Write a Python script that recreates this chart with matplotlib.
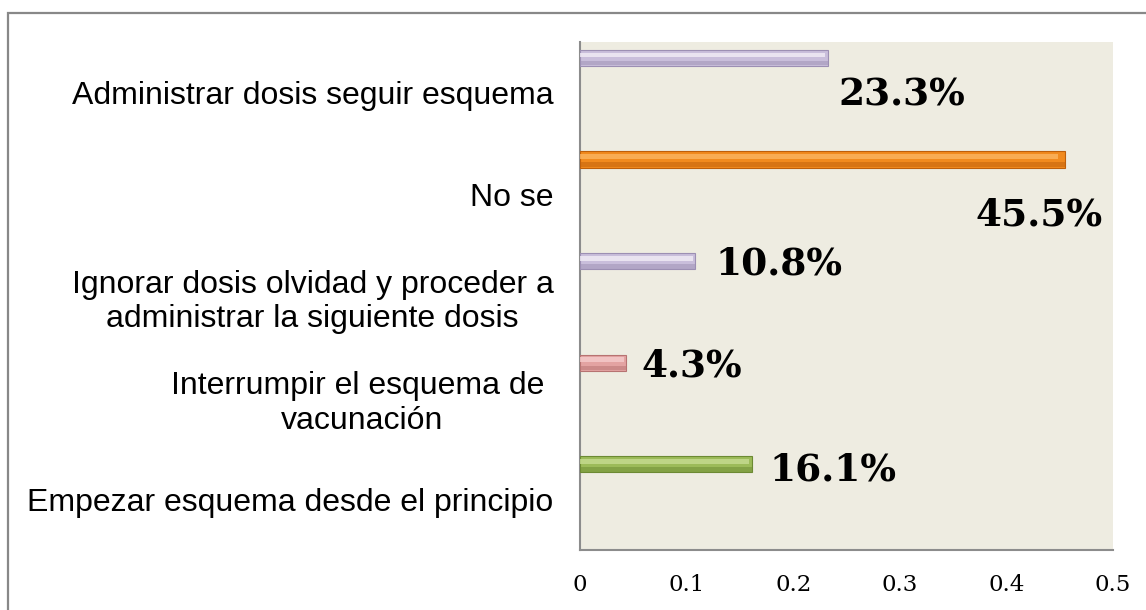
import matplotlib
matplotlib.use("Agg")
import matplotlib.pyplot as plt
from matplotlib.patches import Rectangle

categories = [
    "Administrar dosis seguir esquema",
    "No se",
    "Ignorar dosis olvidad y proceder a\nadministrar la siguiente dosis",
    "Interrumpir el esquema de \nvacunación",
    "Empezar esquema desde el principio",
]
values = [0.233, 0.455, 0.108, 0.043, 0.161]
value_labels = ["23.3%", "45.5%", "10.8%", "4.3%", "16.1%"]
xticks = [0, 0.1, 0.2, 0.3, 0.4, 0.5]

# bar colours: (highlight, body, shadow)
bar_colors = [
    ("#F4F0F8", "#C9BEDB", "#9C8FB3"),
    ("#FDB865", "#F18A1E", "#BE5F0B"),
    ("#F4F0F8", "#C9BEDB", "#9C8FB3"),
    ("#F6CFCF", "#E3A3A2", "#B77372"),
    ("#CADF96", "#9CBB59", "#6C8A33"),
]
# manual label offsets in pixels (dx from bar end, dy from bar centre)
label_offsets = [(10, -37), (-90, -55), (20, -3), (16, -3), (18, -6)]

fig = plt.figure(figsize=(11.46, 6.10), dpi=100)
fig.patch.set_facecolor("white")
ax = fig.add_axes([580 / 1146, 1 - 550 / 610, (1113 - 580) / 1146, (550 - 42) / 610])
ax.set_facecolor("#EEECE1")

# outer chart border (runs off the right and bottom)
fig.patches.append(Rectangle((8 / 1146, -0.05), 1.1, 1 - 13 / 610 + 0.05,
                             transform=fig.transFigure, fill=False,
                             edgecolor="#888888", linewidth=1.6))

ypos = [i - 0.343 for i in range(len(values))]
h = 0.16
for y, v, (hi, body, sh) in zip(ypos, values, bar_colors):
    ax.barh(y, v, height=h, color=body, edgecolor=sh, linewidth=0.8, zorder=3)
    ax.barh(y - h * 0.18, v * 0.985 if v > 0.05 else v * 0.95, left=0, height=h * 0.3,
            color=hi, linewidth=0, alpha=0.75, zorder=4)
    ax.barh(y + h * 0.32, v, height=h * 0.28, color=sh, linewidth=0, alpha=0.5, zorder=4)

for y, v, lab, (dx, dy) in zip(ypos, values, value_labels, label_offsets):
    ax.annotate(lab, xy=(v, y), xytext=(dx * 0.72, dy * 0.72), textcoords="offset points",
                ha="left", va="center", fontsize=27, fontweight="bold",
                family="DejaVu Serif", color="black", zorder=5)

ax.set_xlim(0, 0.5)
ax.set_ylim(len(values) - 0.5, -0.5)
ax.set_xticks(xticks)
ax.set_xticklabels([f"{t:g}" for t in xticks], family="DejaVu Serif", fontsize=16.5)
ax.set_yticks(range(len(categories)))
ax.set_yticklabels(categories, family="Liberation Sans", fontsize=23,
                   multialignment="center")
ax.tick_params(axis="y", length=0, pad=19)
ax.tick_params(axis="x", length=0, pad=17)

for side in ["top", "right"]:
    ax.spines[side].set_visible(False)
for side in ["left", "bottom"]:
    ax.spines[side].set_color("#8C8C8C")
    ax.spines[side].set_linewidth(1.5)

fig.savefig("out.png", dpi=100, facecolor=fig.get_facecolor())
